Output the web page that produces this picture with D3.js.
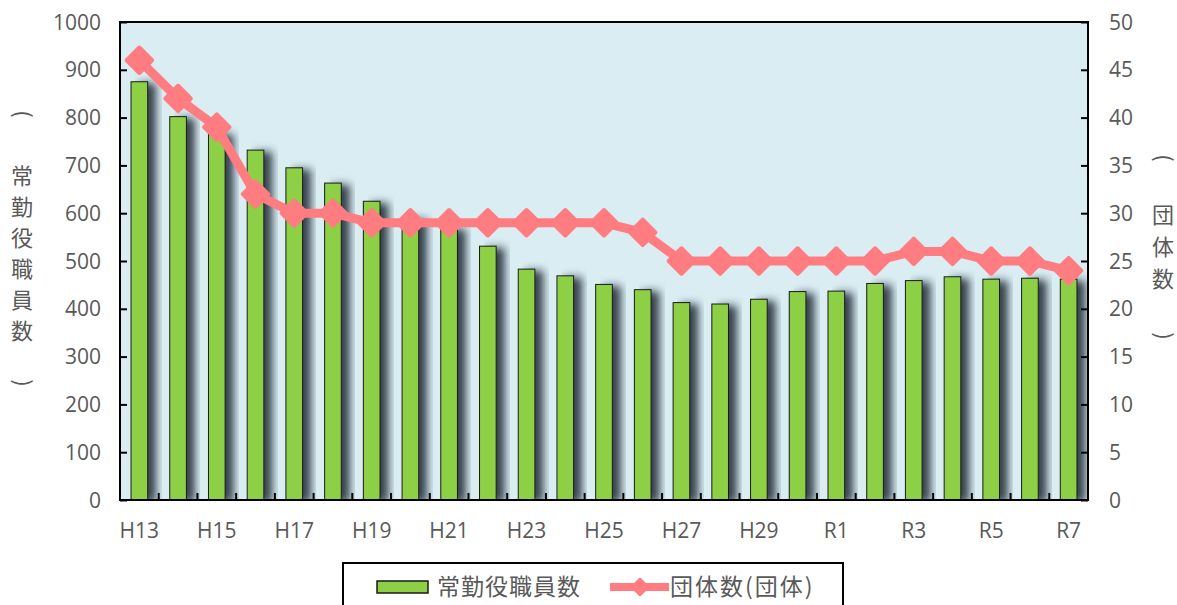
<!DOCTYPE html>
<html>
<head>
<meta charset="utf-8">
<script src="https://cdn.jsdelivr.net/npm/d3@7"></script>
<style>
  body { margin: 0; background: #fff; }
  svg { display: block; }
</style>
</head>
<body>
<svg width="1177" height="605"></svg>
<script>
const categories = ['H13', 'H14', 'H15', 'H16', 'H17', 'H18', 'H19', 'H20', 'H21', 'H22',
    'H23', 'H24', 'H25', 'H26', 'H27', 'H28', 'H29', 'H30', 'R1', 'R2', 'R3', 'R4', 'R5', 'R6', 'R7'];
const staffCounts = [875, 802, 768, 732, 695, 663, 625, 590, 570, 531,
    483, 469, 451, 440, 413, 410, 420, 436, 437, 453, 459, 467, 462, 464, 462];
const groupCounts = [46, 42, 39, 32, 30, 30, 29, 29, 29, 29,
    29, 29, 29, 28, 25, 25, 25, 25, 25, 25, 26, 26, 25, 25, 24];
const leftTicks = d3.range(0, 1001, 100);
const rightTicks = d3.range(0, 51, 5);
const xLabels = categories.filter((d, i) => i % 2 === 0);
const leftTitle = ['(', '常', '勤', '役', '職', '員', '数', ')'];
const rightTitle = ['(', '団', '体', '数', ')'];
const barName = '常勤役職員数';
const lineName = '団体数(団体)';

const svg = d3.select('svg');
const width = 1177;
const height = 605;
const margin = { top: 22, right: 89, bottom: 105, left: 120 };
const innerWidth = width - margin.left - margin.right;
const innerHeight = height - margin.top - margin.bottom;

const barColor = '#8dcf45';
const lineColor = '#ff7c80';
const textColor = '#595959';
const numFont = '"Open Sans", sans-serif';
const jpFont = '"Noto Sans CJK JP", sans-serif';
const numSize = 21;

const xScale = d3.scaleBand()
    .domain(categories)
    .range([0, innerWidth])
    .paddingInner(0.57)
    .paddingOuter(0.285);

const yScale = d3.scaleLinear()
    .domain([0, 1000])
    .range([innerHeight, 0]);

const yRight = d3.scaleLinear()
    .domain([0, 50])
    .range([innerHeight, 0]);

// bar shadow
const defs = svg.append('defs');
const shadow = defs.append('filter')
    .attr('id', 'shadow')
    .attr('x', '-20%').attr('y', '-5%')
    .attr('width', '200%').attr('height', '110%');
shadow.append('feGaussianBlur')
    .attr('in', 'SourceAlpha')
    .attr('stdDeviation', 4)
    .attr('result', 'blur');
shadow.append('feOffset')
    .attr('dx', 8).attr('dy', 2)
    .attr('result', 'off');
shadow.append('feFlood')
    .attr('flood-color', '#17222e')
    .attr('flood-opacity', 0.85);
shadow.append('feComposite')
    .attr('in2', 'off')
    .attr('operator', 'in')
    .attr('result', 'sh');
const merge = shadow.append('feMerge');
merge.append('feMergeNode').attr('in', 'sh');
merge.append('feMergeNode').attr('in', 'SourceGraphic');

const g = svg.append('g')
    .attr('transform', `translate(${margin.left},${margin.top})`);

g.append('rect')
    .attr('width', innerWidth)
    .attr('height', innerHeight)
    .attr('fill', '#daedf3');

const clip = defs.append('clipPath').attr('id', 'plot-clip');
clip.append('rect').attr('width', innerWidth).attr('height', innerHeight);

g.append('g')
    .attr('clip-path', 'url(#plot-clip)')
    .selectAll('rect')
    .data(categories)
    .join('rect')
    .attr('x', d => xScale(d))
    .attr('y', (d, i) => yScale(staffCounts[i]))
    .attr('width', xScale.bandwidth())
    .attr('height', (d, i) => innerHeight - yScale(staffCounts[i]))
    .attr('fill', barColor)
    .attr('stroke', '#1a1a1a')
    .attr('stroke-width', 1)
    .attr('filter', 'url(#shadow)');

const cx = d => xScale(d) + xScale.bandwidth() / 2;

const lineGenerator = d3.line()
    .x(d => cx(d))
    .y((d, i) => yRight(groupCounts[i]));

g.append('path')
    .attr('d', lineGenerator(categories))
    .attr('fill', 'none')
    .attr('stroke', lineColor)
    .attr('stroke-width', 9)
    .attr('stroke-linejoin', 'round');

const diamond = d3.symbol(d3.symbolSquare, 18 * 18);
g.append('g')
    .selectAll('path')
    .data(categories)
    .join('path')
    .attr('d', diamond)
    .attr('transform', (d, i) => `translate(${cx(d)},${yRight(groupCounts[i])}) rotate(45)`)
    .attr('fill', lineColor)
    .attr('stroke', lineColor)
    .attr('stroke-width', 4)
    .attr('stroke-linejoin', 'round');

// axes
const yAxis = d3.axisLeft(yScale)
    .tickValues(leftTicks)
    .tickFormat(d3.format('d'))
    .tickSizeInner(-7)
    .tickSizeOuter(0)
    .tickPadding(19);

const yAxisG = g.append('g').call(yAxis)
    .attr('font-family', numFont)
    .attr('font-size', numSize);
yAxisG.select('.domain').remove();
yAxisG.selectAll('line').attr('stroke', '#000').attr('stroke-width', 2);
yAxisG.selectAll('text')
    .attr('dy', null)
    .attr('y', 7)
    .attr('fill', textColor);

const yRightAxis = d3.axisRight(yRight)
    .tickValues(rightTicks)
    .tickSizeInner(-7)
    .tickSizeOuter(0)
    .tickPadding(21);

const yRightG = g.append('g')
    .attr('transform', `translate(${innerWidth},0)`)
    .call(yRightAxis)
    .attr('font-family', numFont)
    .attr('font-size', numSize);
yRightG.select('.domain').remove();
yRightG.selectAll('line').attr('stroke', '#000').attr('stroke-width', 2);
yRightG.selectAll('text')
    .attr('dy', null)
    .attr('y', 7)
    .attr('fill', textColor);

const xAxis = d3.axisBottom(xScale)
    .tickValues(xLabels)
    .tickSize(0)
    .tickPadding(23);

const xAxisG = g.append('g')
    .attr('transform', `translate(0,${innerHeight})`)
    .call(xAxis)
    .attr('font-family', numFont)
    .attr('font-size', numSize);
xAxisG.select('.domain').remove();
xAxisG.selectAll('text')
    .attr('dy', null)
    .attr('y', 38)
    .attr('fill', textColor);

// category boundary ticks
g.append('g')
    .selectAll('line')
    .data(categories.slice(1))
    .join('line')
    .attr('x1', d => xScale(d) - xScale.step() * xScale.paddingInner() / 2)
    .attr('x2', d => xScale(d) - xScale.step() * xScale.paddingInner() / 2)
    .attr('y1', innerHeight)
    .attr('y2', innerHeight - 7)
    .attr('stroke', '#000')
    .attr('stroke-width', 2);

g.append('rect')
    .attr('width', innerWidth)
    .attr('height', innerHeight)
    .attr('fill', 'none')
    .attr('stroke', '#000')
    .attr('stroke-width', 2);

// vertical titles (y = glyph centre, baseline shifted by hand)
const isParen = d => d === '(' || d === ')';
const leftY = i => i === 0 ? 114 : i === leftTitle.length - 1 ? 383 : 176 + (i - 1) * 31;
svg.append('g')
    .selectAll('text')
    .data(leftTitle)
    .join('text')
    .attr('x', 22)
    .attr('y', (d, i) => leftY(i) + (isParen(d) ? 0 : 8))
    .attr('transform', (d, i) => isParen(d) ? `rotate(90,22,${leftY(i)}) translate(0,7)` : null)
    .attr('text-anchor', 'middle')
    .attr('fill', textColor)
    .attr('font-family', jpFont)
    .attr('font-size', 22)
    .text(d => d);

const rightY = i => i === 0 ? 158 : i === rightTitle.length - 1 ? 336 : 215 + (i - 1) * 32;
svg.append('g')
    .selectAll('text')
    .data(rightTitle)
    .join('text')
    .attr('x', 1163)
    .attr('y', (d, i) => rightY(i) + (isParen(d) ? 0 : 8))
    .attr('transform', (d, i) => isParen(d) ? `rotate(90,1163,${rightY(i)}) translate(0,7)` : null)
    .attr('text-anchor', 'middle')
    .attr('fill', textColor)
    .attr('font-family', jpFont)
    .attr('font-size', 22)
    .text(d => d);

// legend
const legend = svg.append('g').attr('transform', 'translate(343,563)');
legend.append('rect')
    .attr('width', 500)
    .attr('height', 60)
    .attr('fill', '#fff')
    .attr('stroke', '#000')
    .attr('stroke-width', 2);
legend.append('rect')
    .attr('x', 34).attr('y', 18)
    .attr('width', 51).attr('height', 12)
    .attr('fill', barColor)
    .attr('stroke', '#1a1a1a')
    .attr('stroke-width', 1.5);
legend.append('text')
    .attr('x', 94).attr('y', 32)
    .attr('fill', textColor)
    .attr('font-family', jpFont)
    .attr('font-size', 23)
    .attr('letter-spacing', 1)
    .text(barName);
legend.append('line')
    .attr('x1', 267).attr('x2', 326)
    .attr('y1', 24).attr('y2', 24)
    .attr('stroke', lineColor)
    .attr('stroke-width', 8);
legend.append('path')
    .attr('d', d3.symbol(d3.symbolSquare, 11 * 11)())
    .attr('transform', 'translate(297,24) rotate(45)')
    .attr('fill', lineColor)
    .attr('stroke', lineColor)
    .attr('stroke-width', 3)
    .attr('stroke-linejoin', 'round');
legend.append('text')
    .attr('x', 327).attr('y', 32)
    .attr('fill', textColor)
    .attr('font-family', jpFont)
    .attr('font-size', 23)
    .attr('letter-spacing', 2)
    .text(lineName);
</script>
</body>
</html>
